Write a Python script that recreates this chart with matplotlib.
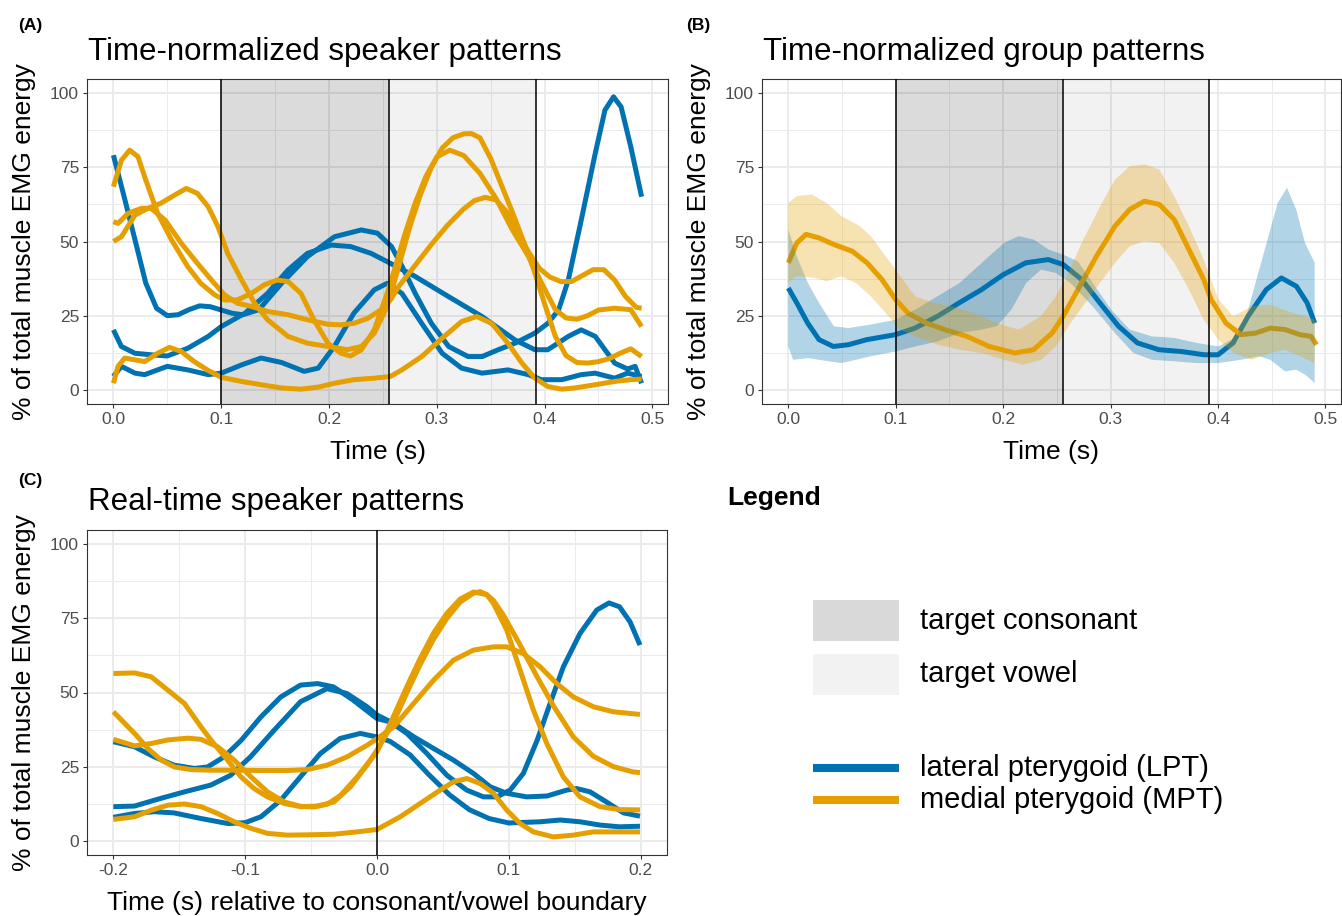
import numpy as np
import matplotlib
matplotlib.use("Agg")
import matplotlib.pyplot as plt
from matplotlib.patches import Rectangle
from matplotlib.lines import Line2D

LPT_COL = "#0072B2"
MPT_COL = "#E69F00"

# ---------------- panel A: time-normalized speaker patterns ----------------
a_lpt1_t = [0, 0.01, 0.02, 0.03, 0.04, 0.05, 0.06, 0.07, 0.08, 0.09, 0.10, 0.11, 0.12, 0.135, 0.156, 0.18,
            0.205, 0.23, 0.245, 0.258, 0.268, 0.28, 0.295, 0.311, 0.329, 0.342, 0.357, 0.3725, 0.391, 0.403,
            0.413, 0.422, 0.434, 0.447, 0.456, 0.464, 0.471, 0.48, 0.49]
a_lpt1_v = [79.1, 65, 50.6, 36, 27.5, 25, 25.3, 27, 28.3, 28, 26.9, 25.8, 25.3, 27, 35.9, 44.9,
            51.6, 53.9, 52.8, 48.3, 41.5, 32.5, 22.4, 14.6, 11.2, 11.2, 13.5, 15.7, 19.1, 22.4,
            26.9, 37, 57.2, 79.7, 94.3, 98.8, 95.4, 81.9, 65.1]

a_lpt2_t = [0, 0.0074, 0.02, 0.038, 0.05, 0.069, 0.088, 0.10, 0.122, 0.143, 0.162, 0.18, 0.202, 0.22, 0.239,
            0.254, 0.28, 0.311, 0.342, 0.3725, 0.391, 0.403, 0.422, 0.434, 0.447, 0.465, 0.477, 0.484, 0.49]
a_lpt2_v = [20.2, 14.6, 12.3, 11.7, 11.4, 14.0, 18.0, 21.3, 25.8, 32.5, 40.4, 46.0, 48.8, 48.3, 46.0,
            43.2, 38.2, 31.4, 24.7, 16.8, 13.5, 13.5, 18.0, 20.2, 18.0, 9.0, 7.0, 7.9, 2.2]

a_lpt3_t = [0, 0.0074, 0.02, 0.029, 0.05, 0.069, 0.088, 0.10, 0.119, 0.137, 0.156, 0.177, 0.19, 0.205, 0.223,
            0.242, 0.254, 0.2676, 0.286, 0.305, 0.323, 0.342, 0.366, 0.385, 0.397, 0.416, 0.434, 0.447, 0.465,
            0.477, 0.49]
a_lpt3_v = [4.5, 7.9, 5.6, 5.1, 7.9, 6.7, 5.1, 5.6, 8.4, 10.7, 9.2, 6.2, 7.3, 14.6, 25.8,
            33.7, 35.9, 32.5, 22.4, 12.3, 7.3, 5.6, 6.7, 5.1, 3.4, 3.4, 5.1, 5.6, 3.9,
            5.6, 4.5]

a_mpt1_t = [0, 0.0074, 0.0151, 0.0228, 0.029, 0.041, 0.054, 0.069, 0.081, 0.094, 0.103, 0.115, 0.128, 0.14,
            0.152, 0.162, 0.174, 0.186, 0.199, 0.211, 0.22, 0.23, 0.242, 0.254, 0.262, 0.27, 0.28, 0.29, 0.30,
            0.312, 0.325, 0.34, 0.355, 0.37, 0.385, 0.40, 0.41, 0.42, 0.43, 0.44, 0.45, 0.465, 0.48, 0.49]
a_mpt1_v = [68.5, 77.4, 80.8, 78.6, 71.8, 59.5, 50.5, 41.5, 35.9, 32, 30.3, 30.3, 32.5, 35.4,
            37, 36.5, 32.5, 23.6, 15.7, 12.3, 11.4, 13.5, 20.2, 32.5, 42, 52, 63, 72, 78.5,
            80.8, 79, 73, 64.5, 54, 45, 34, 27, 24.2, 23.8, 25, 26.9, 27.5, 27, 21.3]

a_mpt2_t = [0, 0.0043, 0.0136, 0.026, 0.035, 0.048, 0.063, 0.078, 0.091, 0.103, 0.115, 0.128, 0.143, 0.162,
            0.18, 0.199, 0.211, 0.223, 0.236, 0.248, 0.257, 0.265, 0.28, 0.295, 0.31, 0.325, 0.335, 0.345,
            0.355, 0.365, 0.375, 0.385, 0.395, 0.405, 0.415, 0.425, 0.435, 0.445, 0.455, 0.465, 0.475,
            0.485, 0.49]
a_mpt2_v = [56.7, 56.1, 59.5, 61.2, 61.2, 57.2, 49.4, 42.6, 37, 32, 29.2, 28.1, 26.4, 25.3,
            23.6, 22.1, 21.9, 22.4, 24.1, 26.9, 30.3, 35, 42, 49, 55.5, 61, 63.8, 64.9,
            64, 60, 53.5, 46.5, 41, 38, 36.5, 36.5, 38.5, 40.5, 40.5, 37, 31.5,
            27.8, 27.5]

a_mpt3_t = [0, 0.0074, 0.02, 0.032, 0.044, 0.057, 0.0676, 0.078, 0.088, 0.097, 0.106, 0.119, 0.131, 0.143,
            0.162, 0.18, 0.199, 0.217, 0.23, 0.242, 0.254, 0.265, 0.275, 0.285, 0.295, 0.305, 0.315, 0.325,
            0.332, 0.34, 0.35, 0.36, 0.37, 0.38, 0.39, 0.40, 0.41, 0.42, 0.43, 0.44, 0.45, 0.46, 0.47,
            0.48, 0.49]
a_mpt3_v = [50, 51.6, 58.9, 61.2, 62.9, 65.7, 67.9, 66.2, 61.7, 55, 46, 37, 29.2, 23.6,
            18, 15.7, 14.6, 13.5, 14.6, 19.1, 28.1, 42, 55, 66, 75, 81.5, 85, 86.3,
            86.4, 85, 78, 69, 60, 50.5, 40.5, 29, 18, 11.5, 9.2, 9, 9.5, 10.5, 12.3,
            13.8, 11.2]

a_mpt4_t = [0, 0.0043, 0.0105, 0.02, 0.029, 0.041, 0.052, 0.063, 0.075, 0.088, 0.10, 0.119, 0.137, 0.156,
            0.174, 0.19, 0.205, 0.223, 0.242, 0.257, 0.2676, 0.286, 0.305, 0.323, 0.337, 0.351, 0.366,
            0.379, 0.391, 0.403, 0.416, 0.428, 0.447, 0.465, 0.48, 0.49]
a_mpt4_v = [2.2, 7.9, 10.7, 10.1, 9.5, 12.3, 14.3, 12.9, 9.5, 6.5, 4.2, 2.8, 1.7, 0.6,
            0.2, 0.9, 2.2, 3.4, 3.9, 4.5, 6.7, 11.2, 17.4, 23, 24.7, 22.4, 15.7,
            9, 3.9, 1.1, 0.2, 0.6, 1.7, 2.8, 3.4, 3.6]

# ---------------- panel B: time-normalized group patterns ----------------
b_lpt_t = [0, 0.0079, 0.018, 0.0286, 0.042, 0.056, 0.073, 0.1, 0.118, 0.139, 0.159, 0.18, 0.2, 0.221, 0.242,
           0.256, 0.273, 0.29, 0.3075, 0.325, 0.345, 0.366, 0.387, 0.4, 0.414, 0.428, 0.445, 0.459, 0.473,
           0.483, 0.49]
b_lpt_v = [34.3, 29.3, 22.5, 16.9, 14.6, 15.2, 16.9, 18.6, 20.8, 24.8, 29.3, 33.8, 38.8, 42.8, 43.9,
           42.2, 37.2, 29.3, 21.4, 15.8, 13.5, 12.9, 11.8, 11.8, 15.8, 24.8, 33.8, 37.7, 34.9,
           29.3, 22.5]
b_lpt_hi_t = [0, 0.0079, 0.0183, 0.0286, 0.0424, 0.0561, 0.0768, 0.0999, 0.1181, 0.1388, 0.1594, 0.1801,
              0.2008, 0.2145, 0.2283, 0.2421, 0.2559, 0.2696, 0.2834, 0.3006, 0.3178, 0.3385, 0.3592, 0.3798,
              0.4005, 0.4177, 0.428, 0.4418, 0.4556, 0.4642, 0.4728, 0.481, 0.49]
b_lpt_hi_v = [54, 45, 36, 29.3, 21.4, 20.8, 22, 23.6, 27, 31.5, 36, 42.8, 49.5, 51.8, 50.7, 47.3, 45.6,
              43.3, 36, 27, 20.3, 18, 17.5, 15.8, 14.6, 18, 27, 45, 63, 68.1, 60.8, 49.5, 42.8]
b_lpt_lo_t = [0, 0.0045, 0.0183, 0.0286, 0.0492, 0.063, 0.0768, 0.0999, 0.1181, 0.1388, 0.1594, 0.1801,
              0.1939, 0.2076, 0.2214, 0.2352, 0.249, 0.2627, 0.2834, 0.3041, 0.3213, 0.3385, 0.3592, 0.3798,
              0.4005, 0.4211, 0.4384, 0.4487, 0.4625, 0.4728, 0.481, 0.49]
b_lpt_lo_v = [14.6, 10.1, 10.7, 10.1, 9, 10.1, 11.3, 12.9, 14.6, 16.3, 19.1, 20.3, 21.4, 27, 36, 40.5,
              39.4, 36, 28.1, 19.1, 12.4, 10.1, 9.6, 9, 9, 10.1, 11.3, 10.1, 6.2, 6.8, 5.1, 2.3]

b_mpt_t = [0, 0.0079, 0.0165, 0.0286, 0.0424, 0.0596, 0.0733, 0.0871, 0.0999, 0.1112, 0.1284, 0.1457,
           0.1663, 0.187, 0.2111, 0.2283, 0.2455, 0.2559, 0.2696, 0.2868, 0.3041, 0.3178, 0.3316, 0.3454,
           0.3592, 0.3729, 0.3867, 0.3936, 0.4074, 0.4211, 0.4349, 0.4487, 0.4625, 0.4762, 0.4866, 0.4917]
b_mpt_v = [42.8, 49.5, 52.4, 51.2, 49, 46.7, 42.8, 37.2, 30.4, 25.9, 22.5, 20.3,
           18, 14.6, 12.4, 13.5, 19.1, 24.8, 33.8, 45, 55.2, 60.8, 63.6, 62.5,
           57.4, 47.3, 37.2, 30.4, 22.5, 18.6, 19.1, 20.8, 20.3, 18.6, 18, 15.2]
b_mpt_hi_t = [0, 0.0079, 0.0217, 0.0355, 0.0492, 0.0665, 0.0768, 0.0906, 0.1043, 0.1181, 0.1353, 0.1525,
              0.1732, 0.1939, 0.2145, 0.2352, 0.249, 0.2593, 0.2731, 0.2903, 0.3041, 0.3178, 0.3316, 0.3454,
              0.3592, 0.3729, 0.3867, 0.4005, 0.4142, 0.4315, 0.4487, 0.4694, 0.481, 0.49]
b_mpt_hi_v = [63, 65.3, 65.9, 63, 58.6, 55.2, 51.8, 45, 38.3, 31.5, 29.3, 28.1,
              25.9, 22.5, 20.3, 24.8, 31.5, 38.3, 49.5, 61.9, 70.9, 75.4, 76, 74.3,
              65.3, 55.2, 43.9, 30.4, 24.8, 28.1, 28.7, 25.9, 24.8, 23.6]
b_mpt_lo_t = [0, 0.0079, 0.0251, 0.0355, 0.0492, 0.063, 0.0768, 0.0906, 0.1043, 0.1181, 0.1388, 0.1594,
              0.1801, 0.2008, 0.218, 0.2352, 0.249, 0.2627, 0.2834, 0.3041, 0.3178, 0.3316, 0.3454, 0.3592,
              0.3729, 0.3867, 0.4005, 0.4142, 0.4315, 0.4487, 0.4625, 0.4762, 0.49]
b_mpt_lo_v = [36, 38.3, 37.7, 36.6, 38.3, 36, 31.5, 25.9, 20.3, 18, 15.2, 13.5,
              12.4, 10.1, 8.4, 10.1, 14.6, 22.5, 32.7, 42.8, 48.4, 50.1, 49.5, 42.8,
              33.8, 23.6, 16.9, 12.4, 10.1, 12.4, 13.5, 11.3, 9]

# ---------------- panel C: real-time speaker patterns ----------------
c_lpt1_t = [-0.2, -0.184, -0.169, -0.154, -0.1385, -0.1285, -0.116, -0.103, -0.088, -0.073, -0.058, -0.045,
            -0.033, -0.018, 0.0, 0.010, 0.0227, 0.0379, 0.053, 0.068, 0.0808, 0.091, 0.101, 0.111, 0.1215,
            0.1313, 0.1414, 0.154, 0.1667, 0.176, 0.184, 0.192, 0.1995]
c_lpt1_v = [33.4, 31.7, 28.3, 25.5, 24.4, 24.9, 28.3, 33.9, 41.8, 48.5, 52.5, 53,
            51.9, 47.4, 41.2, 40.1, 36.2, 29.4, 22.1, 17.1, 14.8, 14.8, 17.1, 22.7, 33.9,
            46.3, 58.7, 69.9, 77.8, 80.2, 78.9, 73.8, 66]

c_lpt2_t = [-0.2, -0.184, -0.164, -0.146, -0.126, -0.111, -0.096, -0.078, -0.058, -0.038, -0.023, -0.0076,
            0.0, 0.0126, 0.0278, 0.043, 0.058, 0.0732, 0.0859, 0.0985, 0.1136, 0.129, 0.144, 0.1515, 0.1616,
            0.174, 0.187, 0.1995]
c_lpt2_v = [11.5, 11.7, 14.3, 16.5, 18.8, 22.1, 28.3, 37.3, 46.9, 51.3, 49.7, 45.2,
            42.4, 39.6, 35.1, 31.1, 27.2, 22.7, 18.2, 16, 14.8, 15.1, 17.1, 17.6, 16.5,
            13.1, 9.4, 8.3]

c_lpt3_t = [-0.2, -0.184, -0.169, -0.154, -0.1335, -0.113, -0.1, -0.088, -0.073, -0.058, -0.043, -0.028,
            -0.0126, 0.0, 0.01, 0.025, 0.04, 0.055, 0.07, 0.085, 0.1, 0.1237, 0.139, 0.154, 0.169, 0.184,
            0.1995]
c_lpt3_v = [7.9, 9.2, 9.8, 9.4, 7.5, 5.8, 6.1, 8.1, 13.7, 21.6, 29.4, 34.5,
            36.2, 35, 33.5, 29, 22, 15.5, 10.5, 7.5, 6, 6.4, 7, 6.4, 5.3, 4.7,
            4.9]

c_mpt1_t = [-0.2, -0.1839, -0.1713, -0.1587, -0.1461, -0.1335, -0.1259, -0.1134, -0.1033, -0.0932, -0.0831,
            -0.0705, -0.0579, -0.0453, -0.0327, -0.0202, -0.0076, 0.0, 0.0126, 0.0227, 0.0328, 0.0429,
            0.053, 0.0631, 0.0732, 0.0783, 0.0833, 0.0884, 0.0985, 0.1086, 0.1187, 0.1288, 0.1414, 0.154,
            0.1692, 0.1843, 0.1995]
c_mpt1_v = [56.4, 56.6, 55.3, 50.8, 46.3, 38.4, 33.9, 27.2, 21.6, 17.6, 14.8,
            12.6, 11.5, 11.7, 13.1, 18.2, 25.5, 30.6, 40, 50, 59.5, 68,
            75, 80.5, 83.5, 84, 83, 80, 71, 57.5, 44, 32.8, 21.5, 14.8,
            11.5, 10.5, 10.4]

c_mpt2_t = [-0.2, -0.1914, -0.1839, -0.1738, -0.1637, -0.1537, -0.1411, -0.1259, -0.1083, -0.0882, -0.068,
            -0.0529, -0.0378, -0.0227, -0.0076, 0.0, 0.0126, 0.0278, 0.043, 0.058, 0.0732, 0.0884, 0.0985,
            0.111, 0.1237, 0.1364, 0.149, 0.1641, 0.1793, 0.1995]
c_mpt2_v = [43.5, 39.6, 36.2, 31.1, 27.2, 24.9, 24, 23.8, 23.8, 23.7, 23.7,
            24, 25.5, 28.3, 32.2, 34.4, 38.4, 46.3, 54.2, 60.9, 64.3, 65.4, 65.4,
            63.1, 58.7, 53, 48.5, 45.2, 43.5, 42.6]

c_mpt3_t = [-0.2, -0.1839, -0.1713, -0.1587, -0.1436, -0.1335, -0.1209, -0.1083, -0.0957, -0.0831, -0.0705,
            -0.0579, -0.0479, -0.0378, -0.0277, -0.0151, -0.005, 0.0, 0.0126, 0.0227, 0.0328, 0.0429, 0.053,
            0.0631, 0.0732, 0.0833, 0.0884, 0.096, 0.1086, 0.1212, 0.1338, 0.149, 0.1641, 0.1793, 0.1944,
            0.1995]
c_mpt3_v = [34.2, 32, 32.8, 34, 34.6, 34.2, 31.7, 27.2, 21.6, 16.5, 13.1,
            11.6, 11.4, 12.3, 15.3, 21.5, 27.2, 30, 42, 52, 61.5, 70, 76.7,
            81.5, 83.9, 83, 81, 76, 66, 55.5, 45.5, 35, 28.5, 25, 23.2,
            23]

c_mpt4_t = [-0.2, -0.1839, -0.1713, -0.1587, -0.1461, -0.1335, -0.1209, -0.1083, -0.0957, -0.0831, -0.068,
            -0.0529, -0.0327, -0.0151, 0.0, 0.0177, 0.0328, 0.048, 0.0581, 0.0682, 0.0783, 0.0884, 0.0985,
            0.1086, 0.1187, 0.1338, 0.149, 0.1641, 0.1793, 0.1995]
c_mpt4_v = [7.2, 8.1, 10.3, 12, 12.4, 11.5, 9.2, 6.4, 4.2, 2.5, 1.9,
            2, 2.2, 3, 3.8, 8.1, 12.6, 17.1, 19.9, 21, 19.3, 16, 10.3,
            5.8, 3, 1.3, 1.9, 3, 3, 3]

# segment boundaries (s)
consonant = (0.1, 0.2555)
vowel = (0.2555, 0.392)

plt.rcParams["font.family"] = ["Liberation Sans", "DejaVu Sans"]

W, H = 1342, 916
fig = plt.figure(figsize=(W / 100, H / 100), dpi=100)


def px_box(x0, y0, x1, y1):
    return [x0 / W, 1 - y1 / H, (x1 - x0) / W, (y1 - y0) / H]


def fx(x):
    return x / W


def fy(y):
    return 1 - y / H


def style(ax, xlim, xticks, xlabels, xminor):
    ax.set_xlim(*xlim)
    ax.set_ylim(-4.8, 104.8)
    ax.set_xticks(xticks)
    ax.set_xticklabels(xlabels)
    ax.set_xticks(xminor, minor=True)
    ax.set_yticks([0, 25, 50, 75, 100])
    ax.set_yticklabels(["0", "25", "50", "75", "100"])
    ax.set_yticks([12.5, 37.5, 62.5, 87.5], minor=True)
    ax.grid(which="major", color="#EBEBEB", lw=1.4)
    ax.grid(which="minor", color="#EBEBEB", lw=0.7)
    ax.set_axisbelow(True)
    for s in ax.spines.values():
        s.set_color("#333333")
        s.set_linewidth(0.8)
    ax.tick_params(which="major", length=2.7, width=0.8, color="#333333",
                   labelcolor="#4D4D4D", labelsize=12.5, pad=3)
    ax.tick_params(which="minor", length=0)


def shade(ax):
    ax.axvspan(*consonant, color="black", alpha=0.14, lw=0, zorder=1)
    ax.axvspan(*vowel, color="black", alpha=0.05, lw=0, zorder=1)
    for x in (consonant[0], consonant[1], vowel[1]):
        ax.axvline(x, color="black", lw=1.1, zorder=5)


def curve(ax, t, v, col):
    ax.plot(t, v, color=col, lw=3.6, zorder=2, solid_joinstyle="round", solid_capstyle="butt")


norm_ticks = [0.0, 0.1, 0.2, 0.3, 0.4, 0.5]
norm_labels = ["0.0", "0.1", "0.2", "0.3", "0.4", "0.5"]
norm_minor = [0.05, 0.15, 0.25, 0.35, 0.45]
norm_lim = (-0.0245, 0.5145)

# panel A
axA = fig.add_axes(px_box(87, 79, 668, 404))
style(axA, norm_lim, norm_ticks, norm_labels, norm_minor)
shade(axA)
for t, v in [(a_lpt1_t, a_lpt1_v), (a_lpt2_t, a_lpt2_v), (a_lpt3_t, a_lpt3_v)]:
    curve(axA, t, v, LPT_COL)
for t, v in [(a_mpt1_t, a_mpt1_v), (a_mpt2_t, a_mpt2_v), (a_mpt3_t, a_mpt3_v), (a_mpt4_t, a_mpt4_v)]:
    curve(axA, t, v, MPT_COL)

# panel B
axB = fig.add_axes(px_box(762, 79, 1341, 404))
style(axB, norm_lim, norm_ticks, norm_labels, norm_minor)
shade(axB)
curve(axB, b_lpt_t, b_lpt_v, LPT_COL)
curve(axB, b_mpt_t, b_mpt_v, MPT_COL)
axB.fill(np.r_[b_lpt_hi_t, b_lpt_lo_t[::-1]], np.r_[b_lpt_hi_v, b_lpt_lo_v[::-1]],
         color=LPT_COL, alpha=0.3, lw=0, zorder=3)
axB.fill(np.r_[b_mpt_hi_t, b_mpt_lo_t[::-1]], np.r_[b_mpt_hi_v, b_mpt_lo_v[::-1]],
         color=MPT_COL, alpha=0.3, lw=0, zorder=3)

# panel C
axC = fig.add_axes(px_box(87, 530, 667, 855))
style(axC, (-0.22, 0.22), [-0.2, -0.1, 0.0, 0.1, 0.2], ["-0.2", "-0.1", "0.0", "0.1", "0.2"],
      [-0.15, -0.05, 0.05, 0.15])
axC.axvline(0, color="black", lw=1.1, zorder=5)
for t, v in [(c_lpt1_t, c_lpt1_v), (c_lpt2_t, c_lpt2_v), (c_lpt3_t, c_lpt3_v)]:
    curve(axC, t, v, LPT_COL)
for t, v in [(c_mpt1_t, c_mpt1_v), (c_mpt2_t, c_mpt2_v), (c_mpt3_t, c_mpt3_v), (c_mpt4_t, c_mpt4_v)]:
    curve(axC, t, v, MPT_COL)

# titles, tags and axis labels
fig.text(fx(18), fy(25.5), "(A)", fontsize=12.5, fontweight="bold", va="center")
fig.text(fx(686), fy(25.5), "(B)", fontsize=12.5, fontweight="bold", va="center")
fig.text(fx(18), fy(481), "(C)", fontsize=12.5, fontweight="bold", va="center")
fig.text(fx(88), fy(60), "Time-normalized speaker patterns", fontsize=22.5, va="baseline")
fig.text(fx(763), fy(60), "Time-normalized group patterns", fontsize=22.5, va="baseline")
fig.text(fx(88), fy(510), "Real-time speaker patterns", fontsize=22.5, va="baseline")

ylab = "% of total muscle EMG energy"
fig.text(fx(24), fy(241.5), ylab, fontsize=19, rotation=90, ha="center", va="center")
fig.text(fx(699), fy(241.5), ylab, fontsize=19, rotation=90, ha="center", va="center")
fig.text(fx(24), fy(692.5), ylab, fontsize=19, rotation=90, ha="center", va="center")
fig.text(fx(377.5), fy(459), "Time (s)", fontsize=19, ha="center", va="baseline")
fig.text(fx(1051), fy(459), "Time (s)", fontsize=19, ha="center", va="baseline")
fig.text(fx(377), fy(910), "Time (s) relative to consonant/vowel boundary", fontsize=19,
         ha="center", va="baseline")

# legend panel
fig.text(fx(727), fy(498), "Legend", fontsize=19, fontweight="bold", va="center")
fig.add_artist(Rectangle((fx(813), fy(641)), 86 / W, 41 / H, transform=fig.transFigure,
                         facecolor="#D9D9D9", edgecolor="none"))
fig.add_artist(Rectangle((fx(813), fy(695)), 86 / W, 41 / H, transform=fig.transFigure,
                         facecolor="#F2F2F2", edgecolor="none"))
fig.text(fx(920), fy(621), "target consonant", fontsize=21, va="center")
fig.text(fx(920), fy(674), "target vowel", fontsize=21, va="center")
fig.add_artist(Line2D([fx(813), fx(899)], [fy(768), fy(768)], color=LPT_COL, lw=5.8,
                      solid_capstyle="butt", transform=fig.transFigure))
fig.add_artist(Line2D([fx(813), fx(899)], [fy(800), fy(800)], color=MPT_COL, lw=5.8,
                      solid_capstyle="butt", transform=fig.transFigure))
fig.text(fx(920), fy(768), "lateral pterygoid (LPT)", fontsize=21, va="center")
fig.text(fx(920), fy(800), "medial pterygoid (MPT)", fontsize=21, va="center")

fig.savefig("out.png", dpi=100)
